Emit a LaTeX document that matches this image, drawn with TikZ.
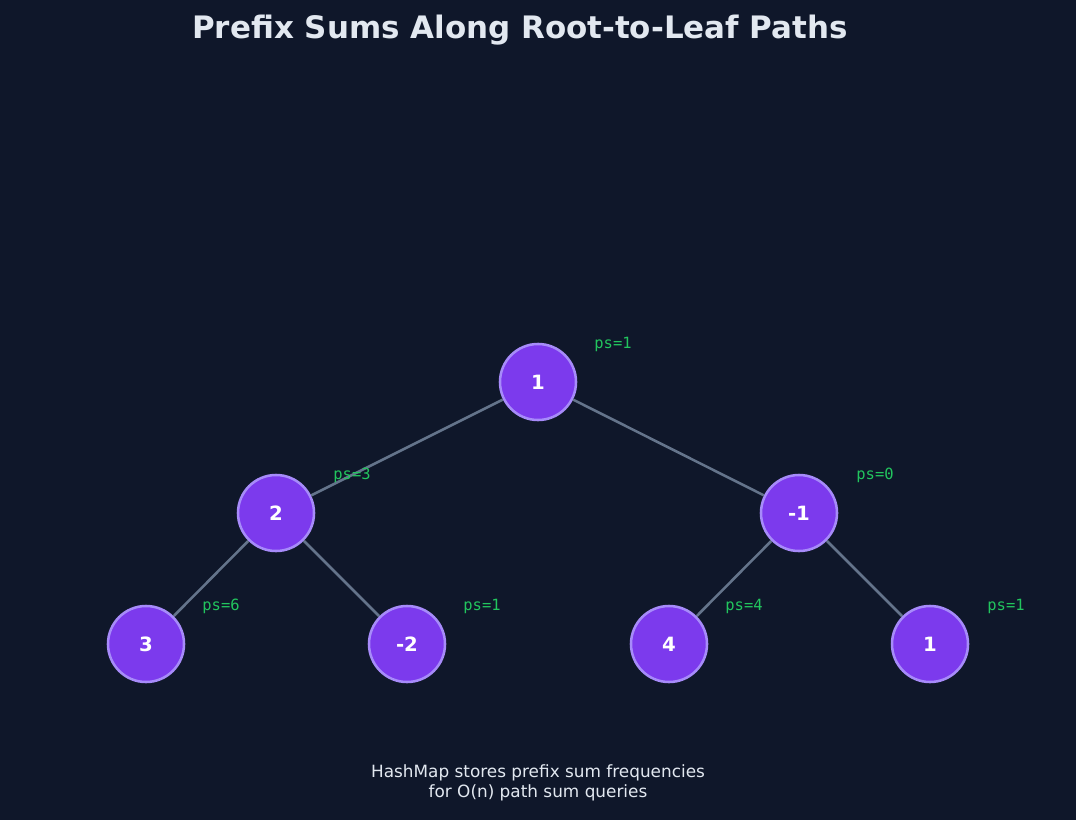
\documentclass[tikz,border=0pt]{standalone}
\usepackage{fontspec}
\setmainfont{DejaVu Sans}
\setmonofont{DejaVu Sans Mono}
\usepackage{xcolor}
\definecolor{bgnavy}{HTML}{0F172A}
\definecolor{nodeviolet}{HTML}{7C3AED}
\definecolor{ringviolet}{HTML}{A78BFA}
\definecolor{edgegrey}{HTML}{64748B}
\definecolor{psgreen}{HTML}{22C55E}
\definecolor{lighttext}{HTML}{E2E8F0}

\begin{document}
\begin{tikzpicture}[x=0.025cm,y=-0.025cm,
  treenode/.style={circle, fill=nodeviolet, draw=ringviolet, line width=1.8pt,
    minimum size=1.9cm, inner sep=0pt, text=white, font=\fontsize{14}{16}\selectfont\bfseries},
  edge/.style={draw=edgegrey, line width=1.8pt},
  pslabel/.style={text=psgreen, font=\ttfamily\fontsize{11}{13}\selectfont}]
\fill[bgnavy] (0,0) rectangle (1076,820);
\useasboundingbox (0,0) rectangle (1076,820);

\node[text=lighttext, font=\fontsize{22}{26}\selectfont\bfseries] (title) at (520,30) {Prefix Sums Along Root-to-Leaf Paths};

% tree
\node[treenode] (root) at (538,382) {1};
\node[treenode] (l) at (276,513) {2};
\node[treenode] (r) at (799,513) {-1};
\node[treenode] (ll) at (146,644) {3};
\node[treenode] (lr) at (407,644) {-2};
\node[treenode] (rl) at (669,644) {4};
\node[treenode] (rr) at (930,644) {1};

\draw[edge] (root) -- (l);
\draw[edge] (root) -- (r);
\draw[edge] (l) -- (ll);
\draw[edge] (l) -- (lr);
\draw[edge] (r) -- (rl);
\draw[edge] (r) -- (rr);

% prefix sums
\node[pslabel] (psroot) at (613,344) {ps=1};
\node[pslabel] (psl) at (352,475) {ps=3};
\node[pslabel] (psr) at (875,475) {ps=0};
\node[pslabel] (psll) at (221,606) {ps=6};
\node[pslabel] (pslr) at (482,606) {ps=1};
\node[pslabel] (psrl) at (744,606) {ps=4};
\node[pslabel] (psrr) at (1006,606) {ps=1};

\node[text=lighttext, align=center, font=\fontsize{12}{14}\selectfont] (note) at (538,783)
  {HashMap stores prefix sum frequencies\\for O(n) path sum queries};
\end{tikzpicture}
\end{document}
